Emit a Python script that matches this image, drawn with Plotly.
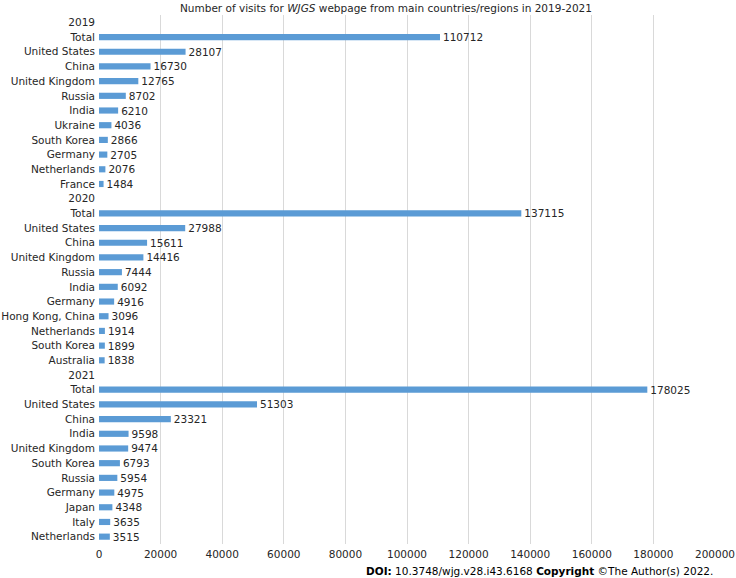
import plotly.graph_objects as go

years = ["2019", "2020", "2021"]

countries_2019 = ["Total", "United States", "China", "United Kingdom", "Russia", "India",
                  "Ukraine", "South Korea", "Germany", "Netherlands", "France"]
visits_2019 = [110712, 28107, 16730, 12765, 8702, 6210, 4036, 2866, 2705, 2076, 1484]

countries_2020 = ["Total", "United States", "China", "United Kingdom", "Russia", "India",
                  "Germany", "Hong Kong, China", "Netherlands", "South Korea", "Australia"]
visits_2020 = [137115, 27988, 15611, 14416, 7444, 6092, 4916, 3096, 1914, 1899, 1838]

countries_2021 = ["Total", "United States", "China", "India", "United Kingdom", "South Korea",
                  "Russia", "Germany", "Japan", "Italy", "Netherlands"]
visits_2021 = [178025, 51303, 23321, 9598, 9474, 6793, 5954, 4975, 4348, 3635, 3515]

x_ticks = [0, 20000, 40000, 60000, 80000, 100000, 120000, 140000, 160000, 180000, 200000]

bar_color = "#5B9BD5"
font_family = "Tahoma, DejaVu Sans, sans-serif"
font_size = 10.5

# one row per label, year headers get an empty row
labels = []
positions = []
values = []
bar_pos = []
for year, names, vals in zip(years,
                             [countries_2019, countries_2020, countries_2021],
                             [visits_2019, visits_2020, visits_2021]):
    positions.append(len(labels))
    labels.append(year)
    for n, v in zip(names, vals):
        bar_pos.append(len(labels))
        positions.append(len(labels))
        labels.append(n)
        values.append(v)

fig = go.Figure(
    go.Bar(
        x=values,
        y=bar_pos,
        orientation="h",
        marker=dict(color=bar_color, line=dict(width=0)),
        width=0.42,
        text=[str(v) for v in values],
        textposition="outside",
        constraintext="none",
        cliponaxis=False,
        textfont=dict(family=font_family, size=font_size, color="#262626"),
    )
)

fig.update_layout(
    width=736,
    height=578,
    margin={"l": 99, "r": 21, "t": 15, "b": 34},
    paper_bgcolor="white",
    plot_bgcolor="white",
    showlegend=False,
    font=dict(family=font_family, size=font_size, color="#262626"),
    xaxis=dict(
        range=[0, 200000],
        tickvals=x_ticks,
        ticktext=[str(t) for t in x_ticks],
        showgrid=True,
        gridcolor="#D9D9D9",
        gridwidth=1,
        zeroline=False,
        showline=False,
        ticks="",
        automargin=False,
        ticklabelstandoff=2,
        tickfont=dict(size=font_size),
    ),
    yaxis=dict(
        range=[len(labels) - 0.5, -0.5],
        tickvals=positions,
        ticktext=labels,
        showgrid=False,
        zeroline=False,
        showline=False,
        ticks="",
        automargin=False,
        ticklabelstandoff=3,
        tickfont=dict(size=font_size),
    ),
)

fig.add_annotation(
    text="Number of visits for <i>WJGS</i> webpage from main countries/regions in 2019-2021",
    xref="paper", yref="paper",
    x=(386 - 99) / 616, y=1,
    yanchor="bottom", yshift=-1,
    showarrow=False,
    font=dict(size=font_size, color="#262626"),
)

fig.add_annotation(
    text="<b>DOI:</b> 10.3748/wjg.v28.i43.6168 <b>Copyright</b> ©The Author(s) 2022.",
    xref="paper", yref="paper",
    x=1, y=0,
    xanchor="right", yanchor="top", yshift=-19,
    showarrow=False,
    font=dict(size=font_size, color="#000000"),
)

fig.write_html("out.html", config={"displayModeBar": False},
               post_script="document.body.style.margin='0';")
